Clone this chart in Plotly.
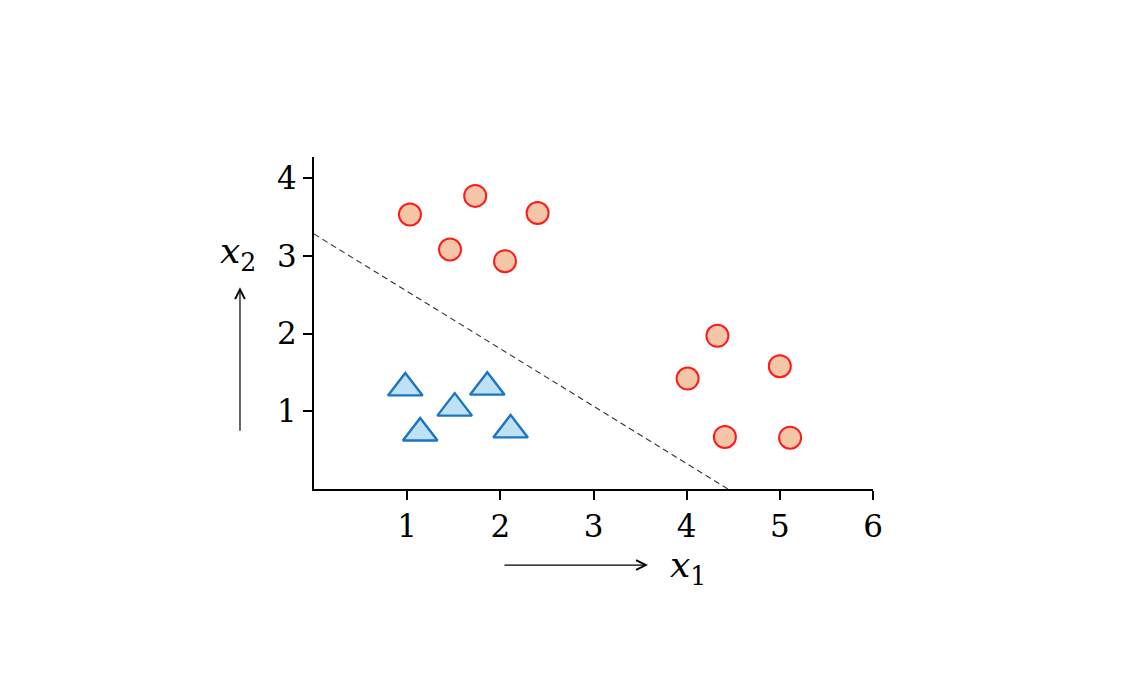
import plotly.graph_objects as go

# class A (circles)
circle_x = [1.03, 1.73, 1.46, 2.05, 2.40, 4.33, 4.01, 5.00, 4.41, 5.11]
circle_y = [3.53, 3.77, 3.08, 2.93, 3.55, 1.97, 1.42, 1.58, 0.67, 0.66]

# class B (triangles)
tri_x = [0.98, 1.14, 1.51, 1.86, 2.11]
tri_y = [1.30, 0.72, 1.04, 1.31, 0.76]

# separating line
boundary_x = [0.0, 4.47]
boundary_y = [3.28, -0.02]

x_ticks = [1, 2, 3, 4, 5, 6]
y_ticks = [1, 2, 3, 4]

FONT = "DejaVu Serif"

fig = go.Figure()

fig.add_trace(go.Scatter(
    x=boundary_x, y=boundary_y, mode="lines",
    line=dict(color="#333333", width=1.1, dash="6px,4px"),
    cliponaxis=False, hoverinfo="skip"))

fig.add_trace(go.Scatter(
    x=circle_x, y=circle_y, mode="markers",
    marker=dict(symbol="circle", size=22, color="#f5c5a8",
                line=dict(color="#ff1a1a", width=2))))

fig.add_trace(go.Scatter(
    x=tri_x, y=tri_y, mode="markers",
    marker=dict(symbol="triangle-up", size=30, color="#bfe1f4",
                line=dict(color="#1a75c4", width=2.4))))

axis_common = dict(showgrid=False, zeroline=False, showline=True,
                   linecolor="black", linewidth=2, ticks="outside",
                   ticklen=9, tickwidth=2, tickcolor="black",
                   tickfont=dict(family=FONT, size=31, color="black"))

fig.update_xaxes(range=[0, 6], tickvals=x_ticks, **axis_common)
fig.update_yaxes(range=[0, 4.27], tickvals=y_ticks, **axis_common)

# axis arrows and labels (paper coords, plot area is 559 x 332 px)
fig.add_annotation(x=0.5975, y=-0.229, xref="paper", yref="paper",
                   ax=-145, ay=0, axref="pixel", ayref="pixel",
                   text="", showarrow=True, arrowhead=5, arrowsize=1.6,
                   arrowwidth=1.2, arrowcolor="black")
fig.add_annotation(x=-0.1324, y=0.608, xref="paper", yref="paper",
                   ax=0, ay=145, axref="pixel", ayref="pixel",
                   text="", showarrow=True, arrowhead=5, arrowsize=1.6,
                   arrowwidth=1.2, arrowcolor="black")
fig.add_annotation(x=0.669, y=-0.235, xref="paper", yref="paper",
                   xanchor="center", yanchor="middle",
                   text="<i>x</i><sub>1</sub>", showarrow=False,
                   font=dict(family=FONT, size=36, color="black"))
fig.add_annotation(x=-0.136, y=0.71, xref="paper", yref="paper",
                   xanchor="center", yanchor="middle",
                   text="<i>x</i><sub>2</sub>", showarrow=False,
                   font=dict(family=FONT, size=36, color="black"))

# page body adds an 8px margin, so offset the plot margins
fig.update_layout(width=1142, height=673, showlegend=False,
                  plot_bgcolor="white", paper_bgcolor="white",
                  margin=dict(l=306, r=277, t=149, b=192))

fig.write_html("out.html")
